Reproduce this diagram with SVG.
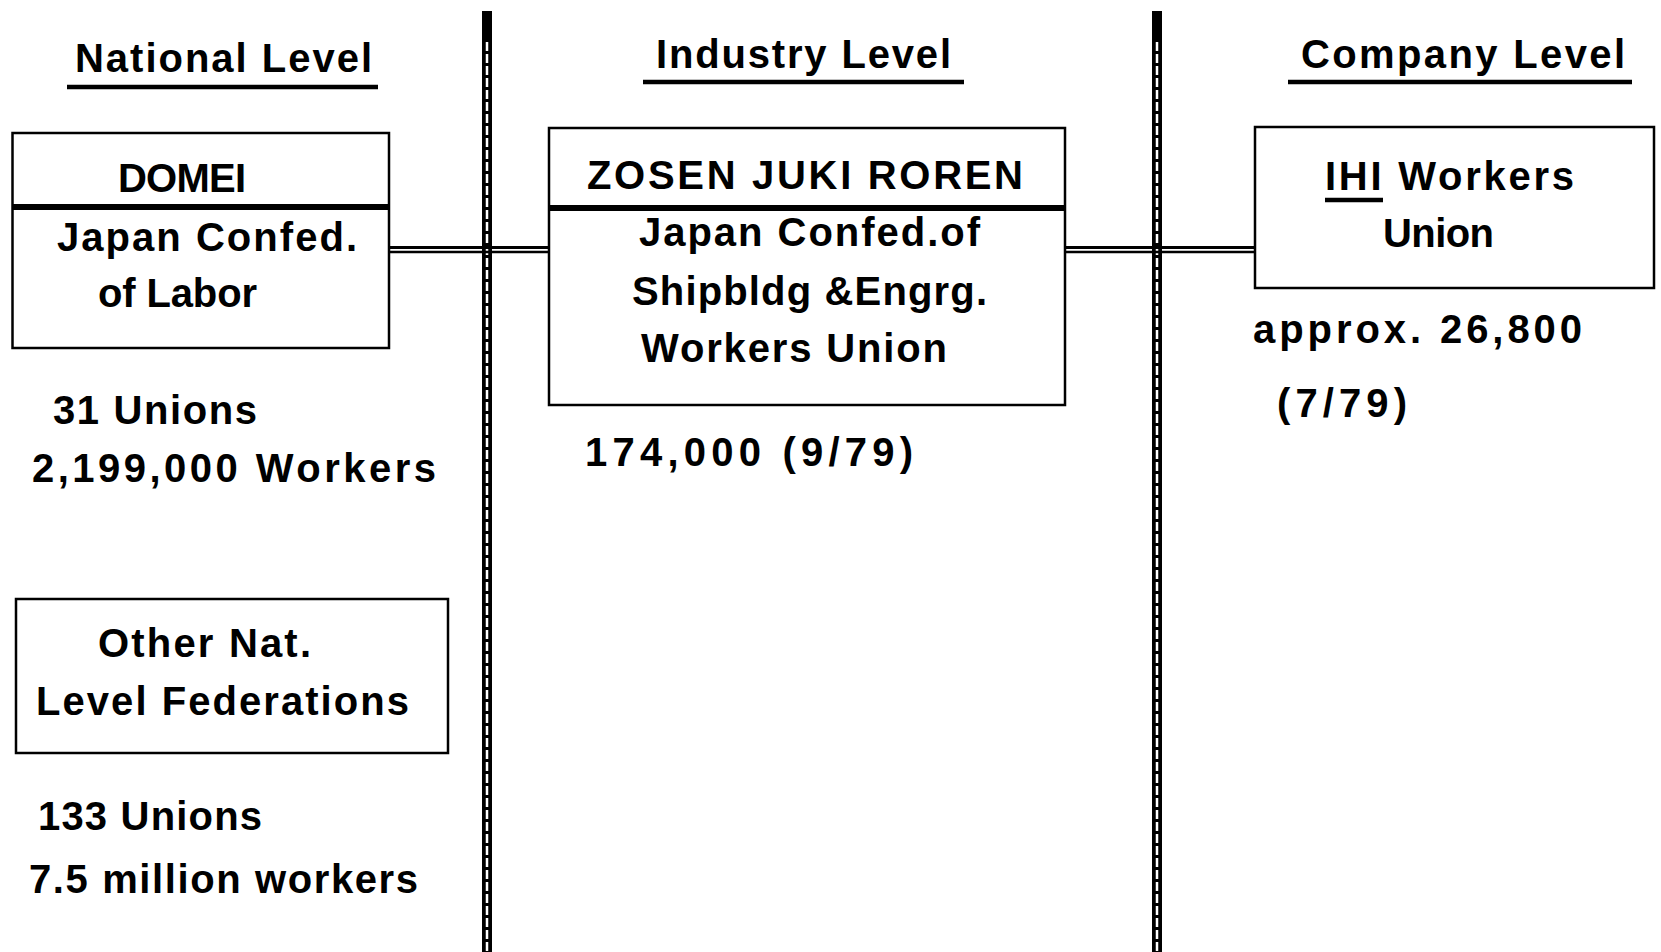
<svg xmlns="http://www.w3.org/2000/svg" width="1661" height="952" viewBox="0 0 1661 952">
<style>
  text { font-family: "Liberation Sans", Arial, Helvetica, sans-serif; font-weight: bold; font-size: 40px; fill: #000; }
  .box { fill: none; stroke: #000; stroke-width: 2.5; }
  .sep { stroke: #000; stroke-width: 6; }
  .ul { stroke: #000; stroke-width: 4.5; }
  .conn { stroke: #000; fill: none; }
  .divb { stroke: #000; stroke-width: 10; }
  .divw { stroke: #fff; stroke-width: 2.5; stroke-dasharray: 9 3; }
</style>
<rect width="1661" height="952" fill="#fff"/>

<g id="dividers">
  <line class="divb" x1="487" y1="11" x2="487" y2="952"/>
  <line class="divw" x1="487" y1="42" x2="487" y2="952"/>
  <line class="divb" x1="1157" y1="11" x2="1157" y2="952"/>
  <line class="divw" x1="1157" y1="42" x2="1157" y2="952"/>
</g>

<g id="headers">
  <g id="national-level">
    <text x="75" y="72" textLength="297" lengthAdjust="spacing">National Level</text>
    <line class="ul" x1="67" y1="87" x2="378" y2="87"/>
  </g>
  <g id="industry-level">
    <text x="656" y="68" textLength="295" lengthAdjust="spacing">Industry Level</text>
    <line class="ul" x1="643" y1="82" x2="964" y2="82"/>
  </g>
  <g id="company-level">
    <text x="1301" y="68" textLength="324" lengthAdjust="spacing">Company Level</text>
    <line class="ul" x1="1288" y1="82" x2="1632" y2="82"/>
  </g>
</g>

<g id="connectors">
  <line class="conn" stroke-width="3" x1="389" y1="247.5" x2="549" y2="247.5"/>
  <line class="conn" stroke-width="2.5" x1="389" y1="252" x2="549" y2="252"/>
  <line class="conn" stroke-width="3" x1="1065" y1="247.5" x2="1255" y2="247.5"/>
  <line class="conn" stroke-width="2.5" x1="1065" y1="252" x2="1255" y2="252"/>
</g>

<g id="domei">
  <rect class="box" x="12.5" y="133" width="376.5" height="215"/>
  <line class="sep" x1="12.5" y1="207" x2="389" y2="207"/>
  <text x="118" y="192" textLength="128" lengthAdjust="spacing">DOMEI</text>
  <text x="57" y="251" textLength="300" lengthAdjust="spacing">Japan Confed.</text>
  <text x="98" y="307" textLength="159" lengthAdjust="spacing">of Labor</text>
</g>

<g id="domei-stats">
  <text x="53" y="424" textLength="204" lengthAdjust="spacing">31 Unions</text>
  <text x="32" y="482" textLength="404" lengthAdjust="spacing">2,199,000 Workers</text>
</g>

<g id="zosen">
  <rect class="box" x="549" y="128" width="516" height="277"/>
  <line class="sep" x1="549" y1="208" x2="1065" y2="208"/>
  <text x="587" y="189" textLength="436" lengthAdjust="spacing">ZOSEN JUKI ROREN</text>
  <text x="639" y="246" textLength="341" lengthAdjust="spacing">Japan Confed.of</text>
  <text x="632" y="305" textLength="355" lengthAdjust="spacing">Shipbldg &amp;Engrg.</text>
  <text x="641" y="362" textLength="306" lengthAdjust="spacing">Workers Union</text>
</g>

<g id="zosen-stats">
  <text x="585" y="466" textLength="328" lengthAdjust="spacing">174,000 (9/79)</text>
</g>

<g id="ihi">
  <rect class="box" x="1255" y="127" width="399" height="161"/>
  <text x="1325" y="190" textLength="249" lengthAdjust="spacing">IHI Workers</text>
  <line class="ul" x1="1325" y1="200" x2="1383" y2="200"/>
  <text x="1383" y="247" textLength="111" lengthAdjust="spacing">Union</text>
</g>

<g id="ihi-stats">
  <text x="1253" y="343" textLength="329" lengthAdjust="spacing">approx. 26,800</text>
  <text x="1277" y="417" textLength="130" lengthAdjust="spacing">(7/79)</text>
</g>

<g id="other-federations">
  <rect class="box" x="16" y="599" width="432" height="154"/>
  <text x="98" y="657" textLength="213" lengthAdjust="spacing">Other Nat.</text>
  <text x="36" y="715" textLength="373" lengthAdjust="spacing">Level Federations</text>
</g>

<g id="other-stats">
  <text x="38" y="830" textLength="224" lengthAdjust="spacing">133 Unions</text>
  <text x="29" y="893" textLength="389" lengthAdjust="spacing">7.5 million workers</text>
</g>
</svg>
